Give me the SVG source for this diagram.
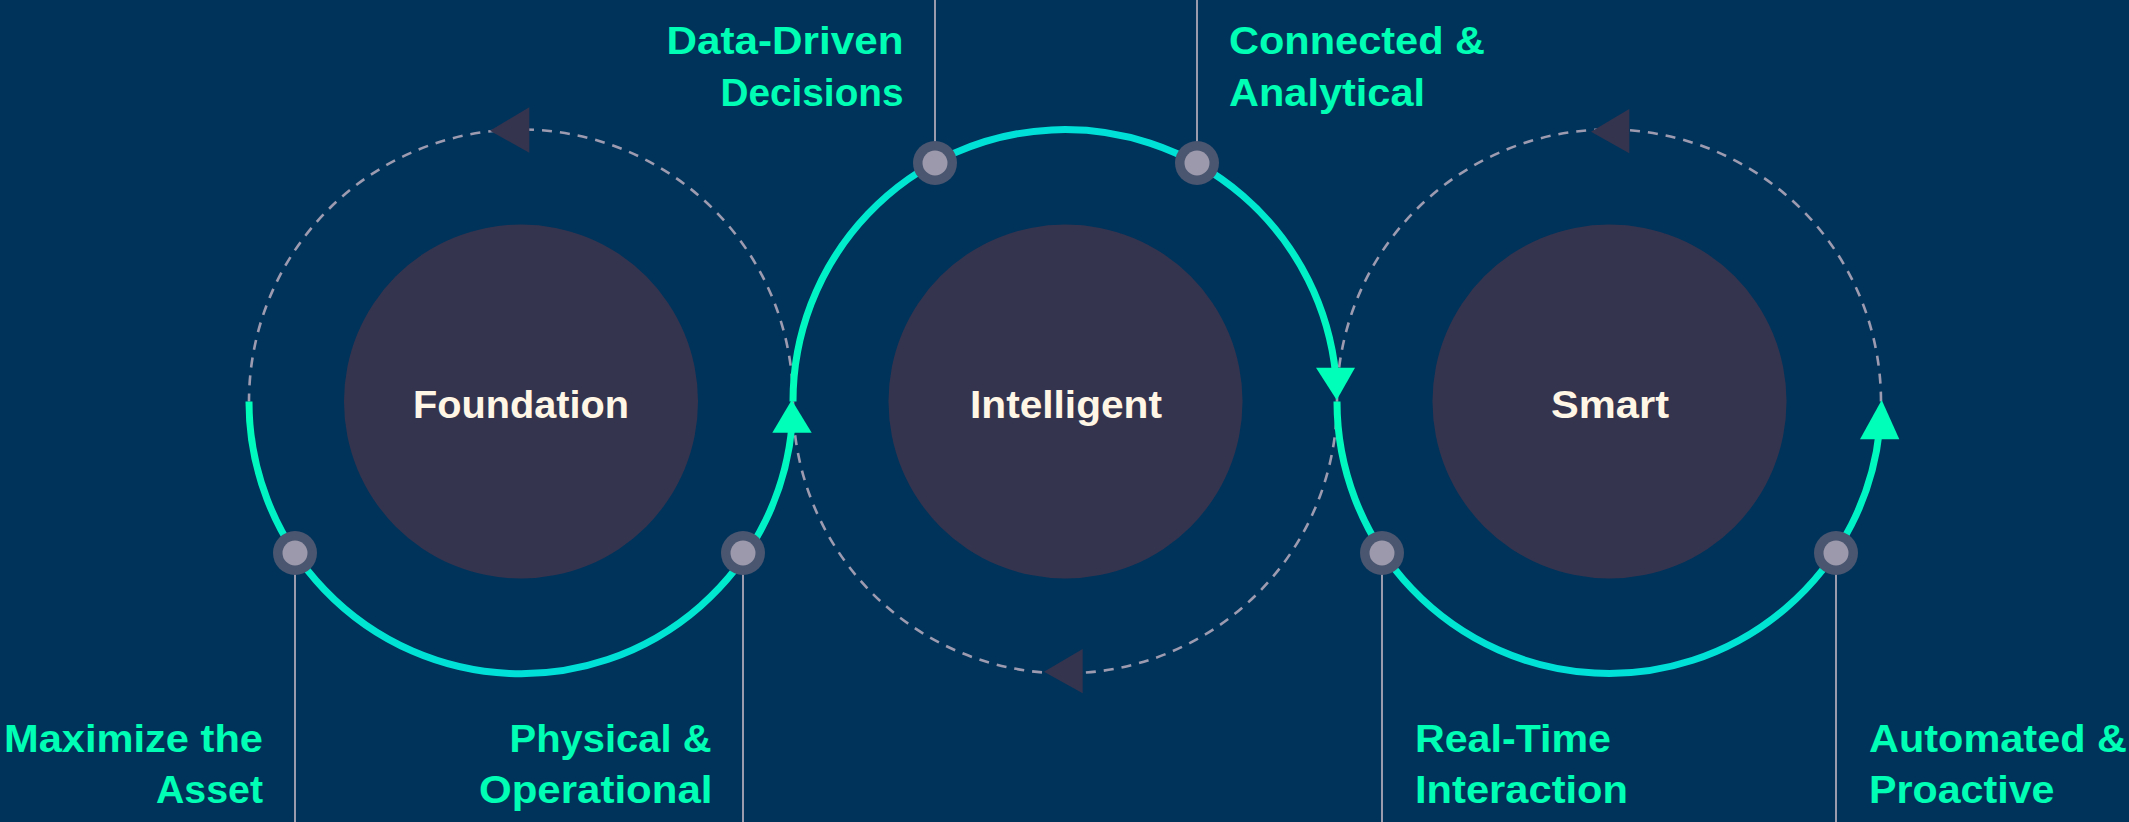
<svg xmlns="http://www.w3.org/2000/svg" width="2129" height="822" viewBox="0 0 2129 822">
  <defs>
    <linearGradient id="gLow" x1="0" y1="0" x2="0" y2="1">
      <stop offset="0" stop-color="#00FFB8"/>
      <stop offset="1" stop-color="#00DFD8"/>
    </linearGradient>
    <linearGradient id="gUp" x1="0" y1="0" x2="0" y2="1">
      <stop offset="0" stop-color="#00DFD8"/>
      <stop offset="1" stop-color="#00FFB8"/>
    </linearGradient>
    <style>
      .dash { fill: none; stroke: #9C9BB0; stroke-width: 2.6; stroke-dasharray: 10 8; }
      .teal-low { fill: none; stroke: url(#gLow); stroke-width: 7; }
      .teal-up { fill: none; stroke: url(#gUp); stroke-width: 7; }
      .head { fill: #00FFB8; }
      .dark-head { fill: #35344F; }
      .core { fill: #35344F; }
      .title { font-family: "Liberation Sans", Arial, sans-serif; font-weight: 700; font-size: 39px; fill: #FFF6E6; text-anchor: middle; }
      .lbl { font-family: "Liberation Sans", Arial, sans-serif; font-weight: 700; font-size: 39px; fill: #00FFB4; }
      .r { text-anchor: end; }
      .lead { stroke: #9B9BAE; stroke-width: 2; }
      .dot-o { fill: #4A5670; }
      .dot-i { fill: #9C99AC; }
    </style>
  </defs>
  <rect width="2129" height="822" fill="#00335A"/>

  <g id="connectors">
    <!-- dashed return arcs -->
    <path class="dash" d="M 793 401.5 A 272 272 0 0 0 249 401.5"/>
    <path class="dash" d="M 1337 401.5 A 272 272 0 0 1 793 401.5"/>
    <path class="dash" d="M 1881 401.5 A 272 272 0 0 0 1337 401.5"/>
    <!-- teal progression arcs -->
    <path class="teal-low" d="M 249 401.5 A 272 272 0 0 0 792 425"/>
    <path class="teal-up" d="M 793 401.5 A 272 272 0 0 1 1335.7 375"/>
    <path class="teal-low" d="M 1337 401.5 A 272 272 0 0 0 1879.5 430"/>
    <!-- teal arrowheads -->
    <polygon class="head" points="791.7,400 772.3,432.7 811.7,432.7"/>
    <polygon class="head" points="1336.7,400 1316,367.7 1355,367.7"/>
    <polygon class="head" points="1881.7,400 1860,439.3 1899.3,439.3"/>
    <!-- dark arrowheads on dashed arcs -->
    <polygon class="dark-head" points="490,130.7 529.3,107.3 529.3,152.7"/>
    <polygon class="dark-head" points="1044,671.7 1082.7,649 1082.7,693.3"/>
    <polygon class="dark-head" points="1591,131.7 1629.3,109 1629.3,153.3"/>
    <!-- leader lines -->
    <line class="lead" x1="935" y1="0" x2="935" y2="163"/>
    <line class="lead" x1="1197" y1="0" x2="1197" y2="163"/>
    <line class="lead" x1="295" y1="553" x2="295" y2="822"/>
    <line class="lead" x1="743" y1="553" x2="743" y2="822"/>
    <line class="lead" x1="1382" y1="553" x2="1382" y2="822"/>
    <line class="lead" x1="1836" y1="553" x2="1836" y2="822"/>
  </g>

  <g id="node-foundation">
    <circle class="core" cx="521" cy="401.5" r="177"/>
    <text class="title" x="521" y="418" textLength="216" lengthAdjust="spacingAndGlyphs">Foundation</text>
  </g>
  <g id="node-intelligent">
    <circle class="core" cx="1065.5" cy="401.5" r="177"/>
    <text class="title" x="1066" y="418" textLength="192" lengthAdjust="spacingAndGlyphs">Intelligent</text>
  </g>
  <g id="node-smart">
    <circle class="core" cx="1609.5" cy="401.5" r="177"/>
    <text class="title" x="1610" y="418" textLength="118" lengthAdjust="spacingAndGlyphs">Smart</text>
  </g>

  <g id="milestone-data-driven">
    <circle class="dot-o" cx="935" cy="163" r="22"/>
    <circle class="dot-i" cx="935" cy="163" r="12.5"/>
    <text class="lbl r" x="903.5" y="54.3" textLength="237" lengthAdjust="spacingAndGlyphs">Data-Driven</text>
    <text class="lbl r" x="903.5" y="106" textLength="183" lengthAdjust="spacingAndGlyphs">Decisions</text>
  </g>
  <g id="milestone-connected">
    <circle class="dot-o" cx="1197" cy="163" r="22"/>
    <circle class="dot-i" cx="1197" cy="163" r="12.5"/>
    <text class="lbl" x="1229" y="54.3" textLength="256" lengthAdjust="spacingAndGlyphs">Connected &amp;</text>
    <text class="lbl" x="1229" y="106" textLength="196" lengthAdjust="spacingAndGlyphs">Analytical</text>
  </g>
  <g id="milestone-maximize">
    <circle class="dot-o" cx="295" cy="553" r="22"/>
    <circle class="dot-i" cx="295" cy="553" r="12.5"/>
    <text class="lbl r" x="263" y="751.7" textLength="259" lengthAdjust="spacingAndGlyphs">Maximize the</text>
    <text class="lbl r" x="263" y="802.7" textLength="107" lengthAdjust="spacingAndGlyphs">Asset</text>
  </g>
  <g id="milestone-physical">
    <circle class="dot-o" cx="743" cy="553" r="22"/>
    <circle class="dot-i" cx="743" cy="553" r="12.5"/>
    <text class="lbl r" x="711.5" y="751.7" textLength="202" lengthAdjust="spacingAndGlyphs">Physical &amp;</text>
    <text class="lbl r" x="712.5" y="802.7" textLength="233.5" lengthAdjust="spacingAndGlyphs">Operational</text>
  </g>
  <g id="milestone-realtime">
    <circle class="dot-o" cx="1382" cy="553" r="22"/>
    <circle class="dot-i" cx="1382" cy="553" r="12.5"/>
    <text class="lbl" x="1415" y="751.7" textLength="196" lengthAdjust="spacingAndGlyphs">Real-Time</text>
    <text class="lbl" x="1415" y="802.7" textLength="213" lengthAdjust="spacingAndGlyphs">Interaction</text>
  </g>
  <g id="milestone-automated">
    <circle class="dot-o" cx="1836" cy="553" r="22"/>
    <circle class="dot-i" cx="1836" cy="553" r="12.5"/>
    <text class="lbl" x="1869" y="751.7" textLength="258" lengthAdjust="spacingAndGlyphs">Automated &amp;</text>
    <text class="lbl" x="1869" y="802.7" textLength="185.5" lengthAdjust="spacingAndGlyphs">Proactive</text>
  </g>
</svg>
